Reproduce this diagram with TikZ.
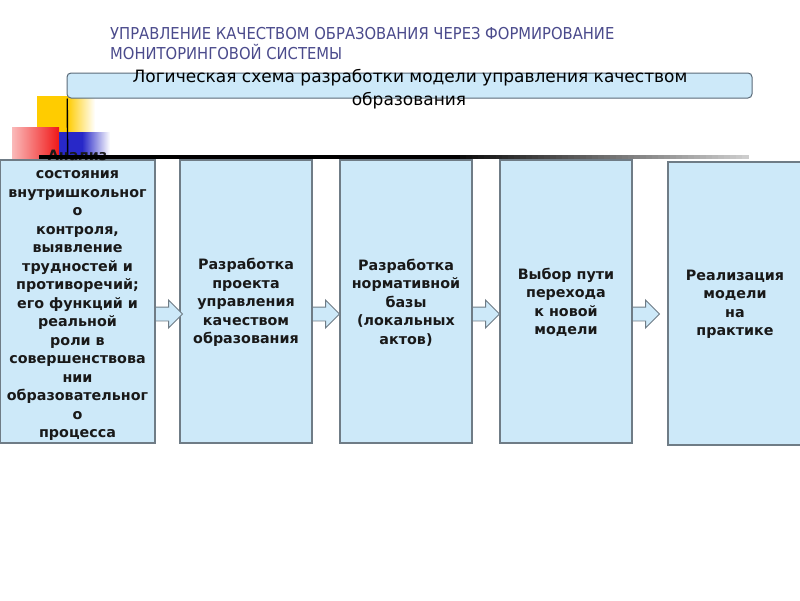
\documentclass[tikz,border=0pt]{standalone}
\usepackage{fontspec}
\setmainfont{DejaVu Sans}
\newfontfamily\condfont{DejaVu Sans Condensed}
\newfontfamily\boxfont{DejaVu Sans}
\usetikzlibrary{shapes.arrows,calc,shadings}
\definecolor{boxfill}{HTML}{CDE9F9}
\definecolor{boxline}{HTML}{6F7C86}
\definecolor{titlecol}{HTML}{4B4B8C}
\definecolor{hdrline}{HTML}{5A6A78}
\definecolor{decoyellow}{HTML}{FFCC00}
\definecolor{decored}{HTML}{F01818}
\definecolor{decoblue}{HTML}{2828C8}
\tikzset{
  stagebox/.style={draw=boxline, line width=1.1pt, fill=boxfill, minimum height=283pt, inner sep=0pt},
  stagetext/.style={align=center, text=black!90, font=\boxfont\bfseries\fontsize{14.3}{18.5}\selectfont},
  blockarrow/.style={single arrow, draw=boxline, line width=0.9pt, fill=boxfill, inner xsep=0pt, inner ysep=6.5pt,
     minimum width=27pt, minimum height=27pt, single arrow head extend=7pt, single arrow tip angle=90,
     single arrow head indent=0pt, anchor=tail},
  titletext/.style={anchor=base west, text=titlecol, font=\condfont\fontsize{16.4}{20}\selectfont, inner sep=0pt},
  hdrtext/.style={anchor=base, font=\fontsize{17}{23}\selectfont, inner sep=0pt},
}
\begin{document}
\begin{tikzpicture}[x=1pt,y=-1pt]
\useasboundingbox (0,0) rectangle (800,600);
% decorations
\fill[decoyellow] (37,96) rectangle (67,133);
\shade[left color=decoyellow, right color=white] (67,96) rectangle (95,133);
\shade[left color=decored!30!white, right color=decored] (12,127) rectangle (59,160);
\fill[decoblue] (59,132) rectangle (82,157);
\shade[left color=decoblue, right color=white] (82,132) rectangle (110,157);
% title
\node[titletext] (title1) at (110,39) {УПРАВЛЕНИЕ КАЧЕСТВОМ ОБРАЗОВАНИЯ ЧЕРЕЗ ФОРМИРОВАНИЕ};
\node[titletext] (title2) at (110,59) {МОНИТОРИНГОВОЙ СИСТЕМЫ};
% header box
\node[draw=hdrline, line width=1pt, fill=boxfill, rounded corners=4pt, minimum width=685pt, minimum height=25pt, inner sep=0pt] (hdr) at (409.5,85.5) {};
\draw[black, line width=1.4pt] (hdr.south west) ++(0.7,0) coordinate (vtop) -- (67.7,157) coordinate (vbot);
\node[hdrtext] (hdrt1) at (410,82) {Логическая схема разработки модели управления качеством};
\node[hdrtext] (hdrt2) at (409,105) {образования};
% stage boxes
\node[stagebox, minimum width=155pt] (b1) at (77.5,301.5) {};
\node[stagebox, minimum width=132pt] (b2) at (246,301.5) {};
\node[stagebox, minimum width=132pt] (b3) at (406,301.5) {};
\node[stagebox, minimum width=132pt] (b4) at (566,301.5) {};
\node[stagebox, minimum width=134pt] (b5) at (735,303.5) {};
% texts
\node[stagetext] (t1) at ($(b1.center)+(0,-6)$) {Анализ\\состояния\\внутришкольног\\о\\контроля,\\выявление\\трудностей и\\противоречий;\\его функций и\\реальной\\роли в\\совершенствова\\нии\\образовательног\\о\\процесса};
\node[stagetext] (t2) at ($(b2.center)+(0,1)$) {Разработка\\проекта\\управления\\качеством\\образования};
\node[stagetext] (t3) at ($(b3.center)+(0,1)$) {Разработка\\нормативной\\базы\\(локальных\\актов)};
\node[stagetext] (t4) at ($(b4.center)+(0,1)$) {Выбор пути\\перехода\\к новой\\модели};
\node[stagetext] (t5) at ($(b5.center)+(0,1)$) {Реализация\\модели\\на\\практике};
% horizontal rule fading to the right (drawn over the first text)
\fill[black] (39,155.4) rectangle (460.5,158.8);
\foreach \i in {0,...,47}{
  \pgfmathsetmacro{\shadeval}{95-\i*1.6}
  \fill[black!\shadeval] (460+6*\i,155.4) rectangle (466.5+6*\i,158.8);
}
% block arrows
\foreach \a in {b1,b2,b3,b4}{
  \path let \p1=(\a.east) in
    node[blockarrow] (arr-\a) at (\x1-0.5pt,314) {};
}
\end{tikzpicture}
\end{document}
